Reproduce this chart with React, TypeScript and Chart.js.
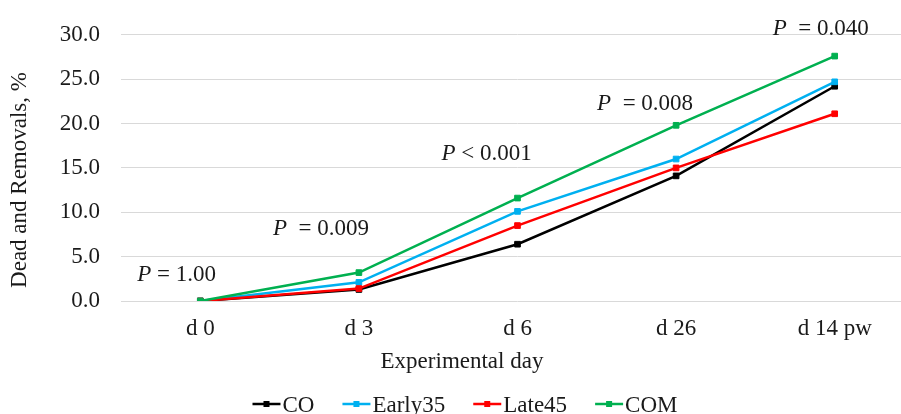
import React, { useEffect, useRef } from "react";
import { Chart, registerables } from "chart.js";

Chart.register(...registerables);

// ---- data ----
const categories = ["d 0", "d 3", "d 6", "d 26", "d 14 pw"];
const coValues = [0, 1.3, 6.4, 14.1, 24.2];
const early35Values = [0, 2.1, 10.1, 16.0, 24.7];
const late45Values = [0, 1.4, 8.5, 15.0, 21.1];
const comValues = [0, 3.2, 11.6, 19.8, 27.6];
const seriesNames = ["CO", "Early35", "Late45", "COM"];
const seriesColors = ["#000000", "#00B0F0", "#FF0000", "#00B050"];
const yTickValues = [0, 5, 10, 15, 20, 25, 30];
const pSymbols = ["=", "=", "<", "=", "="];
const pValues = ["1.00", "0.009", "0.001", "0.008", "0.040"];
const pGaps = [" ", "  ", " ", "  ", "  "];

// ---- layout (text placement) ----
const pBaselineLevel = [2.2, 7.4, 15.9, 21.5, 30.0];
const pShiftPx = [-63, -86, -76, -79, -62];

const FONT = '"Liberation Serif", "Times New Roman", serif';
const TEXT = "#1a1a1a";

const overlay = {
  id: "overlay",
  afterDraw(chart: any) {
    const ctx = chart.ctx as CanvasRenderingContext2D;
    const xs = chart.scales.x;
    const ys = chart.scales.y;
    ctx.save();
    ctx.fillStyle = TEXT;
    ctx.textBaseline = "alphabetic";
    ctx.textAlign = "left";
    // P annotations
    categories.forEach((_, i) => {
      const px = xs.getPixelForValue(i) + pShiftPx[i];
      const py = ys.getPixelForValue(pBaselineLevel[i]);
      ctx.font = `italic 23px ${FONT}`;
      ctx.fillText("P", px, py);
      const w = ctx.measureText("P").width;
      ctx.font = `23px ${FONT}`;
      ctx.fillText(`${pGaps[i]}${pSymbols[i]} ${pValues[i]}`, px + w, py);
    });

    // y title
    ctx.save();
    ctx.translate(20, 180);
    ctx.rotate(-Math.PI / 2);
    ctx.textAlign = "center";
    ctx.textBaseline = "middle";
    ctx.font = `23px ${FONT}`;
    ctx.fillText("Dead and Removals, %", 0, 0);
    ctx.restore();

    // x title
    ctx.textAlign = "center";
    ctx.textBaseline = "alphabetic";
    ctx.font = `23px ${FONT}`;
    ctx.fillText("Experimental day", 462, 368);

    // legend
    ctx.font = `23px ${FONT}`;
    const markW = 28;
    const markGap = 2;
    const itemGap = 28;
    const widths = seriesNames.map((n) => markW + markGap + ctx.measureText(n).width);
    const total = widths.reduce((a, b) => a + b, 0) + itemGap * (seriesNames.length - 1);
    let lx = 465 - total / 2;
    const ly = 404;
    seriesNames.forEach((n, i) => {
      ctx.strokeStyle = seriesColors[i];
      ctx.fillStyle = seriesColors[i];
      ctx.lineWidth = 2.5;
      ctx.beginPath();
      ctx.moveTo(lx, ly);
      ctx.lineTo(lx + markW, ly);
      ctx.stroke();
      ctx.fillRect(lx + markW / 2 - 3, ly - 3, 6, 6);
      ctx.fillStyle = TEXT;
      ctx.textAlign = "left";
      ctx.fillText(n, lx + markW + markGap, 412);
      lx += widths[i] + itemGap;
    });
    ctx.restore();
  },
};

export default function App() {
  const ref = useRef<HTMLCanvasElement | null>(null);
  useEffect(() => {
    document.body.style.margin = "0";
    document.body.style.overflow = "hidden";
    const canvas = ref.current!;
    const seriesValues = [coValues, early35Values, late45Values, comValues];
    const chart = new Chart(canvas, {
      type: "line",
      data: {
        labels: categories,
        datasets: seriesNames.map((name, i) => ({
          label: name,
          data: seriesValues[i],
          borderColor: seriesColors[i],
          backgroundColor: seriesColors[i],
          borderWidth: 2.5,
          pointStyle: "rect",
          pointRadius: 4,
          pointBorderWidth: 1,
          pointBackgroundColor: seriesColors[i],
          pointBorderColor: seriesColors[i],
          tension: 0,
          order: seriesNames.length - 1 - i,
        })),
      },
      options: {
        responsive: false,
        animation: false,
        devicePixelRatio: 1,
        layout: { padding: { top: 32, right: 6, bottom: 0, left: 0 } },
        plugins: { legend: { display: false }, tooltip: { enabled: false } },
        scales: {
          x: {
            offset: true,
            grid: { display: false, drawTicks: false },
            border: { display: false },
            ticks: { color: TEXT, font: { family: FONT, size: 23 }, padding: 14, maxRotation: 0, autoSkip: false },
            afterFit: (s: any) => {
              s.height = 113;
            },
          },
          y: {
            min: 0,
            max: 30,
            afterBuildTicks: (s: any) => {
              s.ticks = yTickValues.map((v) => ({ value: v }));
            },
            grid: { color: "#d9d9d9", lineWidth: 1, drawTicks: false },
            border: { display: false },
            ticks: {
              color: TEXT,
              font: { family: FONT, size: 23 },
              padding: 21,
              callback: (v: any) => Number(v).toFixed(1),
            },
            afterFit: (s: any) => {
              s.width = 121;
            },
          },
        },
      },
      plugins: [overlay],
    });
    return () => chart.destroy();
  }, []);
  return (
    <div style={{ width: 901, height: 414, overflow: "hidden", position: "relative" }}>
      <canvas ref={ref} width={920} height={414} style={{ width: 920, height: 414, display: "block" }} />
    </div>
  );
}
